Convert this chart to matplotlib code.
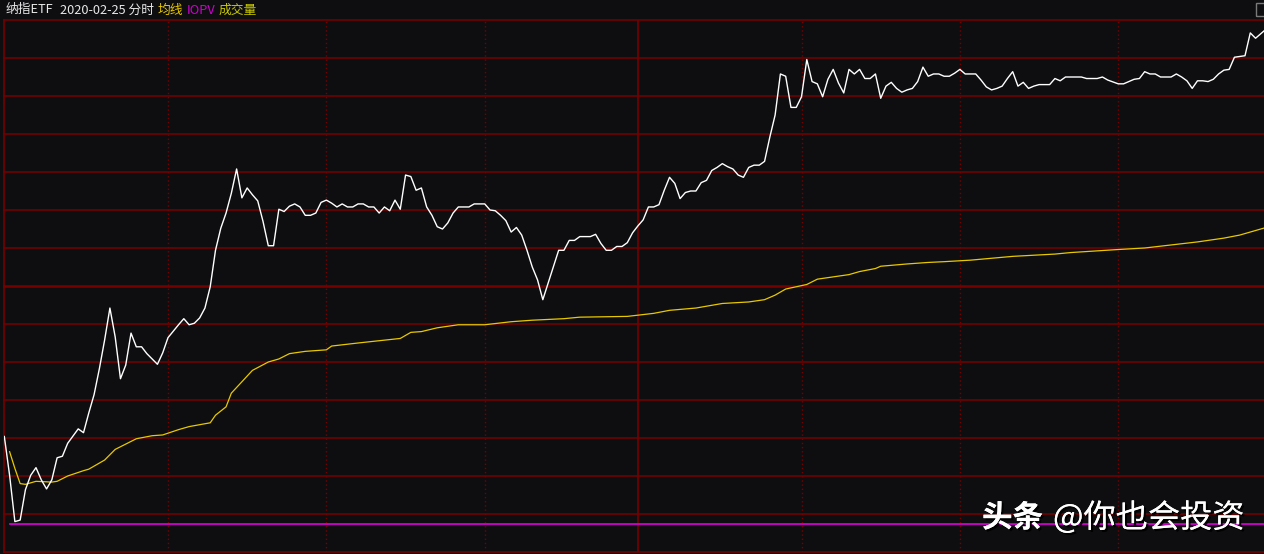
import matplotlib.pyplot as plt
import matplotlib.patheffects as pe
import numpy as np
from matplotlib.patches import Rectangle

plt.rcParams["font.family"] = ["Noto Sans CJK SC", "DejaVu Sans"]

# minute index since 9:30 (afternoon continues after 120), change vs prev close in %
price_t = [
    0, 1, 2, 3, 4, 5, 6, 7, 8, 9, 10, 11, 12, 14, 15, 16, 17, 18, 19, 20,
    21, 22, 23, 24, 25, 26, 27, 28, 29, 30, 31, 33, 34, 35, 36, 37, 38, 39, 40, 41,
    42, 43, 44, 45, 46, 47, 48, 49, 50, 51, 52, 53, 54, 55, 56, 57, 58, 59, 60, 61,
    62, 63, 64, 65, 66, 67, 68, 69, 70, 71, 72, 73, 74, 75, 76, 77, 78, 79, 80, 81,
    82, 83, 84, 85, 86, 88, 89, 91, 92, 93, 94, 95, 96, 97, 98, 99, 100, 101, 102, 105,
    106, 107, 108, 109, 111, 112, 113, 114, 115, 116, 117, 118, 119, 120, 121, 122, 123, 124, 125, 126,
    127, 128, 129, 130, 131, 132, 133, 134, 135, 136, 137, 138, 139, 140, 141, 142, 143, 144, 145, 146,
    147, 148, 149, 150, 151, 152, 153, 154, 155, 156, 157, 158, 159, 160, 161, 162, 163, 164, 165, 166,
    167, 168, 169, 170, 171, 172, 173, 174, 175, 176, 177, 178, 179, 180, 181, 182, 184, 185, 186, 187,
    188, 189, 190, 191, 192, 193, 194, 195, 196, 198, 199, 200, 201, 204, 205, 207, 208, 209, 211, 212,
    214, 215, 216, 217, 218, 219, 220, 221, 222, 223, 224, 225, 226, 227, 228, 229, 230, 231, 232, 233,
    235, 236, 237, 239,
]
price_v = [
    -1.98, -2.49, -3.10, -3.08, -2.68, -2.49, -2.39, -2.55, -2.67, -2.55, -2.26, -2.24, -2.07, -1.88, -1.93, -1.67, -1.43, -1.09, -0.71, -0.29,
    -0.67, -1.22, -1.04, -0.62, -0.80, -0.80, -0.89, -0.96, -1.03, -0.88, -0.68, -0.51, -0.43, -0.51, -0.49, -0.42, -0.29, -0.01, 0.47, 0.76,
    0.96, 1.22, 1.54, 1.16, 1.29, 1.20, 1.12, 0.85, 0.53, 0.53, 1.01, 0.98, 1.05, 1.08, 1.04, 0.93, 0.93, 0.96, 1.10, 1.13,
    1.09, 1.04, 1.08, 1.04, 1.04, 1.08, 1.08, 1.04, 1.04, 0.96, 1.04, 0.99, 1.13, 1.01, 1.46, 1.44, 1.26, 1.29, 1.04, 0.93,
    0.78, 0.75, 0.83, 0.96, 1.04, 1.04, 1.08, 1.08, 1.00, 0.99, 0.93, 0.86, 0.71, 0.77, 0.67, 0.47, 0.25, 0.08, -0.18, 0.47,
    0.47, 0.60, 0.60, 0.65, 0.65, 0.68, 0.56, 0.47, 0.47, 0.52, 0.52, 0.57, 0.70, 0.79, 0.87, 1.04, 1.04, 1.07, 1.26, 1.43,
    1.35, 1.15, 1.23, 1.25, 1.25, 1.36, 1.39, 1.52, 1.56, 1.61, 1.57, 1.54, 1.46, 1.43, 1.56, 1.59, 1.59, 1.64, 1.96, 2.25,
    2.79, 2.76, 2.35, 2.35, 2.49, 2.98, 2.69, 2.66, 2.49, 2.72, 2.85, 2.67, 2.54, 2.85, 2.79, 2.85, 2.73, 2.73, 2.79, 2.47,
    2.63, 2.68, 2.60, 2.55, 2.58, 2.60, 2.69, 2.88, 2.76, 2.79, 2.79, 2.76, 2.76, 2.80, 2.85, 2.79, 2.79, 2.71, 2.62, 2.58,
    2.60, 2.63, 2.73, 2.82, 2.63, 2.68, 2.60, 2.63, 2.65, 2.65, 2.73, 2.70, 2.75, 2.75, 2.73, 2.73, 2.75, 2.71, 2.66, 2.66,
    2.72, 2.73, 2.82, 2.79, 2.79, 2.75, 2.75, 2.75, 2.79, 2.75, 2.70, 2.60, 2.70, 2.70, 2.69, 2.72, 2.79, 2.84, 2.85, 3.01,
    3.03, 3.33, 3.26, 3.38,
]

avg_t = [
    1, 2, 3, 4, 6, 9, 10, 12, 15, 16, 19, 21, 23, 25, 28, 30, 33, 35, 39, 40,
    42, 43, 45, 47, 50, 52, 54, 57, 61, 62, 67, 71, 75, 77, 79, 82, 86, 91, 96, 100,
    106, 109, 118, 123, 126, 131, 136, 141, 144, 146, 148, 152, 154, 157, 160, 162, 165, 166, 171, 175,
    178, 183, 191, 199, 202, 211, 216, 221, 226, 231, 234, 239,
]
avg_v = [
    -2.18, -2.40, -2.60, -2.61, -2.57, -2.58, -2.57, -2.50, -2.43, -2.41, -2.29, -2.15, -2.08, -2.01, -1.97, -1.96, -1.89, -1.85, -1.80, -1.70,
    -1.59, -1.41, -1.26, -1.11, -1.00, -0.96, -0.89, -0.86, -0.84, -0.79, -0.75, -0.72, -0.69, -0.61, -0.60, -0.55, -0.51, -0.51, -0.47, -0.45,
    -0.43, -0.41, -0.40, -0.36, -0.32, -0.29, -0.23, -0.21, -0.18, -0.12, -0.04, 0.02, 0.09, 0.12, 0.15, 0.19, 0.23, 0.26, 0.29, 0.31,
    0.32, 0.34, 0.39, 0.42, 0.44, 0.48, 0.50, 0.54, 0.58, 0.63, 0.67, 0.77,
]

iopv_t = [1, 239]
iopv_v = [-3.13, -3.13]

time_lines = [31, 61, 91, 151, 181, 211]
session_break = 120

W, H = 1264, 554
BG = "#0e0e11"
GRID = "#760000"

fig = plt.figure(figsize=(W / 100, H / 100), dpi=100, facecolor=BG)
ax = fig.add_axes([4 / W, 2 / H, 1260 / W, 532 / H])
ax.set_facecolor(BG)
ax.set_xlim(-0.06, 238.6)
ax.set_ylim(-3.5, 3.5)

for lv in np.arange(-3.5, 3.51, 0.5):
    ax.axhline(lv, color=GRID, lw=1.8 if abs(lv) < 1e-9 else 1.1, zorder=1, clip_on=False)
for t in time_lines:
    ax.axvline(t, color=GRID, lw=1.0, ls=(0, (1, 2)), zorder=1)
ax.axvline(session_break, color=GRID, lw=1.2, zorder=1)

for side in ["top", "right", "bottom"]:
    ax.spines[side].set_visible(False)
ax.spines["left"].set_color(GRID)
ax.spines["left"].set_linewidth(1.2)
ax.set_xticks([])
ax.set_yticks([])

ax.plot(iopv_t, iopv_v, color="#d000d0", lw=1.3, zorder=3)
ax.plot(avg_t, avg_v, color="#e8c800", lw=0.9, zorder=4)
ax.plot(price_t, price_v, color="white", lw=1.0, zorder=5)

# header
hy = 1 - 10 / H
fig.text(6 / W, hy, "纳指ETF", color="#e8e8e8", fontsize=9.2, va="center")
fig.text(60 / W, hy, "2020-02-25 分时", color="#e8e8e8", fontsize=9.2, va="center")
fig.text(158 / W, hy, "均线", color="#e8c800", fontsize=9.2, va="center")
fig.text(187 / W, hy, "IOPV", color="#d000d0", fontsize=9.2, va="center")
fig.text(219 / W, hy, "成交量", color="#c8c800", fontsize=9.2, va="center")

fig.patches.append(Rectangle((1256 / W, 1 - 16 / H), 12 / W, 13 / H, transform=fig.transFigure,
                             fill=False, edgecolor="#7a7a7a", lw=1))

# watermark
shadow = [pe.withSimplePatchShadow(offset=(1.5, -1.5), shadow_rgbFace="black", alpha=0.9), pe.Normal()]
wy = 1 - 518 / H
fig.text(982 / W, wy, "头条", color="white", fontsize=22, fontweight="bold", va="center", path_effects=shadow)
fig.text(1053 / W, wy, "@你也会投资", color="white", fontsize=23.2, va="center", path_effects=shadow)

fig.savefig("out.png", dpi=100, facecolor=BG)
